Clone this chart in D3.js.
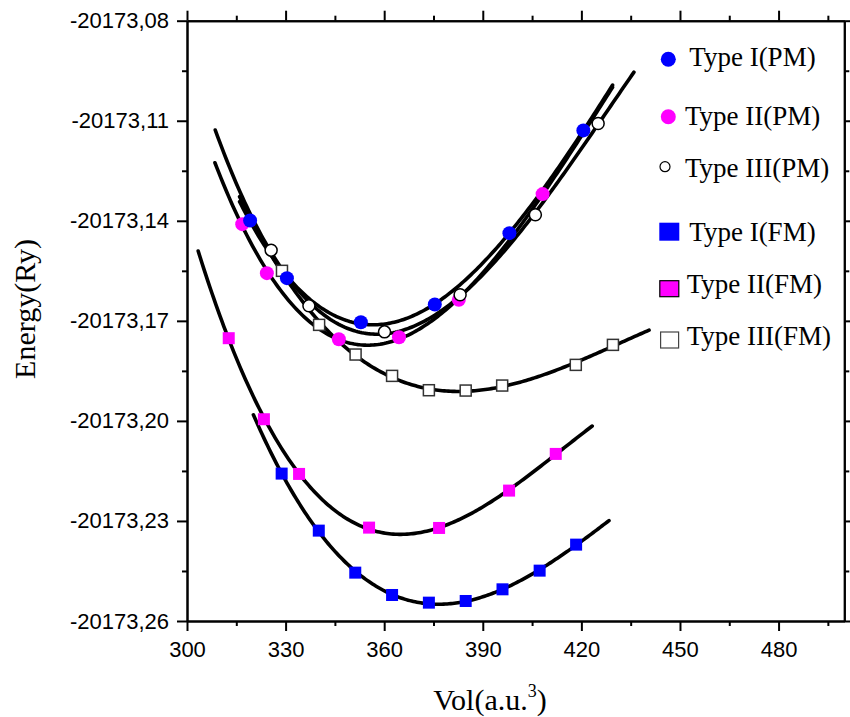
<!DOCTYPE html>
<html>
<head>
<meta charset="utf-8">
<script src="https://cdn.jsdelivr.net/npm/d3@7"></script>
<style>
  html, body { margin: 0; padding: 0; background: #fff; }
  svg { display: block; }
  .tick text { font-family: Arial, "Liberation Sans", sans-serif; font-size: 22px; fill: #000; }
  .serif { font-family: "Times New Roman", "Liberation Serif", serif; fill: #000; }
</style>
</head>
<body>
<svg id="chart" width="850" height="717"></svg>
<script>
// Volume (a.u.^3) and total energy (Ry) for each configuration
const volPM1 = [319.2, 330.4, 352.9, 375.4, 398.1, 420.6];
const ePM1   = [-20173.1399, -20173.1572, -20173.1704, -20173.1651, -20173.1437, -20173.1129];

const volPM2 = [316.8, 324.3, 346.2, 364.5, 382.7, 408.2];
const ePM2   = [-20173.1410, -20173.1557, -20173.1755, -20173.1749, -20173.1637, -20173.1320];

const volPM3 = [325.6, 337.1, 360.1, 383.1, 406.0, 425.1];
const ePM3   = [-20173.1488, -20173.1655, -20173.1733, -20173.1622, -20173.1382, -20173.1108];

const volFM1 = [328.8, 340.1, 351.2, 362.4, 373.6, 384.8, 396.0, 407.3, 418.4];
const eFM1   = [-20173.2158, -20173.2329, -20173.2455, -20173.2522, -20173.2545, -20173.2540, -20173.2505, -20173.2449, -20173.2371];

const volFM2 = [312.7, 323.4, 334.1, 355.4, 376.7, 398.0, 412.2];
const eFM2   = [-20173.1752, -20173.1995, -20173.2159, -20173.2320, -20173.2321, -20173.2209, -20173.2099];

const volFM3 = [328.9, 340.2, 351.3, 362.4, 373.6, 384.8, 395.9, 418.3, 429.6];
const eFM3   = [-20173.1550, -20173.1712, -20173.1801, -20173.1865, -20173.1908, -20173.1909, -20173.1894, -20173.1832, -20173.1772];

// Volume interval over which each fitted E(V) curve is drawn
const fitPM1 = [316.0, 429.5];
const fitPM2 = [308.5, 429.5];
const fitPM3 = [308.6, 436.0];
const fitFM1 = [320.2, 428.4];
const fitFM2 = [303.4, 423.3];
const fitFM3 = [316.0, 440.6];

const seriesNames = ["Type I(PM)", "Type II(PM)", "Type III(PM)", "Type I(FM)", "Type II(FM)", "Type III(FM)"];

const xMajor = [300, 330, 360, 390, 420, 450, 480];
const xMinor = [315, 345, 375, 405, 435, 465, 495];
const yMajor = [-20173.26, -20173.23, -20173.20, -20173.17, -20173.14, -20173.11, -20173.08];
const yMinor = [-20173.245, -20173.215, -20173.185, -20173.155, -20173.125, -20173.095];

// ---- drawing ----
const svg = d3.select("#chart");
const plotLeft = 187, plotRight = 844.3, plotTop = 20.7, plotBottom = 621;

const x = d3.scaleLinear().domain([300, 500]).range([plotLeft, plotRight]);
const y = d3.scaleLinear().domain([-20173.26, -20173.08]).range([plotBottom, plotTop]);

// comma as decimal separator, plain hyphen as minus sign
const commaLocale = d3.formatLocale({ decimal: ",", thousands: "", grouping: [3], currency: ["", ""], minus: "-" });
const yFmt = commaLocale.format(".2f");

function styleAxis(g) {
  g.select(".domain").attr("stroke", "#000").attr("stroke-width", 2);
  g.selectAll(".tick line").attr("stroke", "#000").attr("stroke-width", 2);
}

// bottom axis with labels + minor ticks
svg.append("g").attr("transform", `translate(0,${plotBottom})`)
  .call(d3.axisBottom(x).tickValues(xMajor).tickSize(10).tickSizeOuter(0).tickPadding(10).tickFormat(d3.format("d")))
  .call(styleAxis);
svg.append("g").attr("transform", `translate(0,${plotBottom})`)
  .call(d3.axisBottom(x).tickValues(xMinor).tickSize(5).tickSizeOuter(0).tickFormat(""))
  .call(styleAxis);

// top axis mirrors the bottom one without labels
svg.append("g").attr("transform", `translate(0,${plotTop})`)
  .call(d3.axisTop(x).tickValues(xMajor).tickSize(10).tickSizeOuter(0).tickFormat(""))
  .call(styleAxis);
svg.append("g").attr("transform", `translate(0,${plotTop})`)
  .call(d3.axisTop(x).tickValues(xMinor).tickSize(5).tickSizeOuter(0).tickFormat(""))
  .call(styleAxis);

// left axis with comma-decimal labels
svg.append("g").attr("transform", `translate(${plotLeft},0)`)
  .call(d3.axisLeft(y).tickValues(yMajor).tickSize(10).tickSizeOuter(0).tickPadding(8).tickFormat(yFmt))
  .call(styleAxis);
svg.append("g").attr("transform", `translate(${plotLeft},0)`)
  .call(d3.axisLeft(y).tickValues(yMinor).tickSize(5).tickSizeOuter(0).tickFormat(""))
  .call(styleAxis);

// right axis mirrors the left one
svg.append("g").attr("transform", `translate(${plotRight},0)`)
  .call(d3.axisRight(y).tickValues(yMajor).tickSize(10).tickSizeOuter(0).tickFormat(""))
  .call(styleAxis);
svg.append("g").attr("transform", `translate(${plotRight},0)`)
  .call(d3.axisRight(y).tickValues(yMinor).tickSize(5).tickSizeOuter(0).tickFormat(""))
  .call(styleAxis);

// axis titles
svg.append("text").attr("class", "serif")
  .attr("transform", `translate(35,309) rotate(-90)`)
  .attr("text-anchor", "middle").attr("font-size", 30)
  .text("Energy(Ry)");

const xt = svg.append("text").attr("class", "serif")
  .attr("x", 490).attr("y", 710).attr("text-anchor", "middle").attr("font-size", 30);
xt.append("tspan").text("Vol(a.u.");
xt.append("tspan").attr("font-size", 18).attr("dy", -13).text("3");
xt.append("tspan").attr("dy", 13).text(")");

// least-squares cubic E(V) fit
function cubicFit(xs, ys) {
  const m = d3.mean(xs), s = (d3.max(xs) - d3.min(xs)) / 2;
  const n = 4;
  const A = Array.from({ length: n }, () => new Array(n + 1).fill(0));
  xs.forEach((xv, k) => {
    const t = (xv - m) / s;
    const yv = ys[k] + 20173;
    const p = [1, t, t * t, t * t * t];
    for (let i = 0; i < n; i++) {
      for (let j = 0; j < n; j++) A[i][j] += p[i] * p[j];
      A[i][n] += p[i] * yv;
    }
  });
  for (let i = 0; i < n; i++) {
    let piv = i;
    for (let r = i + 1; r < n; r++) if (Math.abs(A[r][i]) > Math.abs(A[piv][i])) piv = r;
    [A[i], A[piv]] = [A[piv], A[i]];
    for (let r = 0; r < n; r++) {
      if (r === i) continue;
      const f = A[r][i] / A[i][i];
      for (let c = i; c <= n; c++) A[r][c] -= f * A[i][c];
    }
  }
  const c = A.map((row, i) => row[n] / row[i]);
  return v => {
    const t = (v - m) / s;
    return c[0] + c[1] * t + c[2] * t * t + c[3] * t * t * t - 20173;
  };
}

const series = [
  { vol: volFM3, e: eFM3, range: fitFM3, shape: "square", fill: "#ffffff", stroke: "#333", sw: 1.5, size: 11 },
  { vol: volFM2, e: eFM2, range: fitFM2, shape: "square", fill: "#ff00ff", stroke: "none", sw: 0, size: 12 },
  { vol: volFM1, e: eFM1, range: fitFM1, shape: "square", fill: "#0000ff", stroke: "none", sw: 0, size: 12 },
  { vol: volPM2, e: ePM2, range: fitPM2, shape: "circle", fill: "#ff00ff", stroke: "none", sw: 0, size: 7 },
  { vol: volPM1, e: ePM1, range: fitPM1, shape: "circle", fill: "#0000ff", stroke: "none", sw: 0, size: 7 },
  { vol: volPM3, e: ePM3, range: fitPM3, shape: "circle", fill: "#ffffff", stroke: "#000", sw: 1.5, size: 6 }
];

const line = d3.line().x(d => x(d[0])).y(d => y(d[1])).curve(d3.curveLinear);
const curves = svg.append("g");
series.forEach(s => {
  const f = cubicFit(s.vol, s.e);
  const pts = d3.range(0, 201).map(i => {
    const v = s.range[0] + (s.range[1] - s.range[0]) * i / 200;
    return [v, f(v)];
  });
  curves.append("path").attr("d", line(pts))
    .attr("fill", "none").attr("stroke", "#000").attr("stroke-width", 3.6)
    .attr("stroke-linecap", "round");
});

const marks = svg.append("g");
series.forEach(s => {
  const pts = s.vol.map((v, i) => [v, s.e[i]]);
  if (s.shape === "circle") {
    marks.append("g").selectAll("circle").data(pts).join("circle")
      .attr("cx", d => x(d[0])).attr("cy", d => y(d[1])).attr("r", s.size)
      .attr("fill", s.fill).attr("stroke", s.stroke).attr("stroke-width", s.sw);
  } else {
    marks.append("g").selectAll("rect").data(pts).join("rect")
      .attr("x", d => x(d[0]) - s.size / 2).attr("y", d => y(d[1]) - s.size / 2)
      .attr("width", s.size).attr("height", s.size)
      .attr("fill", s.fill).attr("stroke", s.stroke).attr("stroke-width", s.sw);
  }
});

// legend
const legendItems = [
  { name: seriesNames[0], shape: "circle", fill: "#0000ff", stroke: "none", sw: 0, r: 7.5, sx: 668.3, sy: 59.3, tx: 689.3, ty: 66 },
  { name: seriesNames[1], shape: "circle", fill: "#ff00ff", stroke: "none", sw: 0, r: 7.5, sx: 668.3, sy: 116.7, tx: 685, ty: 125 },
  { name: seriesNames[2], shape: "circle", fill: "#ffffff", stroke: "#000", sw: 1.2, r: 5, sx: 665, sy: 166.7, tx: 685, ty: 176.7 },
  { name: seriesNames[3], shape: "square", fill: "#0000ff", stroke: "none", sw: 0, w: 20, h: 18, sx: 669.3, sy: 231.7, tx: 689.3, ty: 240.7 },
  { name: seriesNames[4], shape: "square", fill: "#ff00ff", stroke: "#000", sw: 1.2, w: 19, h: 16, sx: 669.3, sy: 288.7, tx: 686.7, ty: 293.3 },
  { name: seriesNames[5], shape: "square", fill: "#ffffff", stroke: "#444", sw: 1.2, w: 18, h: 16, sx: 669.6, sy: 340, tx: 686.7, ty: 345 }
];
const lg = svg.append("g");
legendItems.forEach(it => {
  if (it.shape === "circle") {
    lg.append("circle").attr("cx", it.sx).attr("cy", it.sy).attr("r", it.r)
      .attr("fill", it.fill).attr("stroke", it.stroke).attr("stroke-width", it.sw);
  } else {
    lg.append("rect").attr("x", it.sx - it.w / 2).attr("y", it.sy - it.h / 2)
      .attr("width", it.w).attr("height", it.h)
      .attr("fill", it.fill).attr("stroke", it.stroke).attr("stroke-width", it.sw);
  }
  lg.append("text").attr("class", "serif").attr("x", it.tx).attr("y", it.ty)
    .attr("font-size", 27).text(it.name);
});
</script>
</body>
</html>
